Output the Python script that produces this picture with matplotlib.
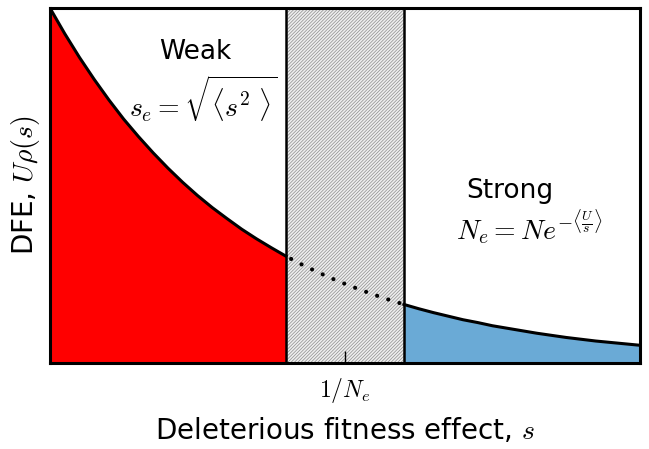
import numpy as np
import matplotlib.pyplot as plt

plt.rcParams['mathtext.fontset'] = 'cm'
plt.rcParams['hatch.linewidth'] = 0.5

# curve, s on [0, 1], DFE normalised to top of axes
s_vals = [0.0, 0.025, 0.05, 0.075, 0.1, 0.125, 0.15, 0.175, 0.2, 0.225, 0.25,
          0.275, 0.3, 0.325, 0.35, 0.375, 0.4, 0.425, 0.45, 0.475, 0.5,
          0.525, 0.55, 0.575, 0.6, 0.625, 0.65, 0.675, 0.7, 0.725, 0.75,
          0.775, 0.8, 0.825, 0.85, 0.875, 0.9, 0.925, 0.95, 0.975, 1.0]
dfe_vals = [1.0, 0.928, 0.861, 0.799, 0.741, 0.687, 0.638, 0.592, 0.549, 0.509, 0.472,
            0.438, 0.407, 0.377, 0.350, 0.325, 0.301, 0.279, 0.259, 0.240, 0.223,
            0.207, 0.192, 0.178, 0.165, 0.153, 0.142, 0.132, 0.122, 0.114, 0.105,
            0.098, 0.091, 0.084, 0.078, 0.072, 0.067, 0.062, 0.058, 0.054, 0.050]
band_lo, band_hi = 0.4, 0.6
tick_pos = [0.5]
tick_labels = [r'$1/N_e$']

s = np.array(s_vals)
d = np.array(dfe_vals)

fig = plt.figure(figsize=(6.49, 4.49), dpi=100)
ax = fig.add_axes([0.077, 0.1915, 0.909, 0.7905])

weak = s <= band_lo
strong = s >= band_hi
mid = (s >= band_lo) & (s <= band_hi)

ax.fill_between(s[weak], 0, d[weak], color='#ff0000', lw=0)
ax.fill_between(s[strong], 0, d[strong], color='#6aaad6', lw=0)
ax.axvspan(band_lo, band_hi, facecolor='#eeeeee', edgecolor='#8c8c8c',
           hatch='//////////', lw=0)
ax.axvline(band_lo, color='black', lw=1.8)
ax.axvline(band_hi, color='black', lw=1.8)

ax.plot(s[weak], d[weak], color='black', lw=2.2)
ax.plot(s[strong], d[strong], color='black', lw=2.2)
ax.plot(s[mid], d[mid], color='black', lw=3, ls=(1.4, (0.01, 2.8)),
        dash_capstyle='round')

ax.text(0.246, 0.876, 'Weak', ha='center', va='center', fontsize=19)
ax.text(0.26, 0.745, r'$s_e = \sqrt{\langle s^2\ \rangle}$', ha='center',
        va='center', fontsize=20)
ax.text(0.78, 0.485, 'Strong', ha='center', va='center', fontsize=19)
ax.text(0.812, 0.385, r'$N_e = N e^{-\langle \frac{U}{s} \rangle}$',
        ha='center', va='center', fontsize=20)

ax.set_xlim(0, 1)
ax.set_ylim(0, 1)
ax.set_yticks([])
ax.set_xticks(tick_pos)
ax.set_xticklabels(tick_labels, fontsize=17)
ax.tick_params(axis='x', direction='in', length=9, width=1, pad=9)
for sp in ax.spines.values():
    sp.set_linewidth(2.2)

ax.set_xlabel(r'Deleterious fitness effect, $s$', fontsize=20, labelpad=8)
ax.set_ylabel(r'DFE, $U\rho(s)$', fontsize=20, labelpad=6)

fig.savefig('out.png', dpi=100)
